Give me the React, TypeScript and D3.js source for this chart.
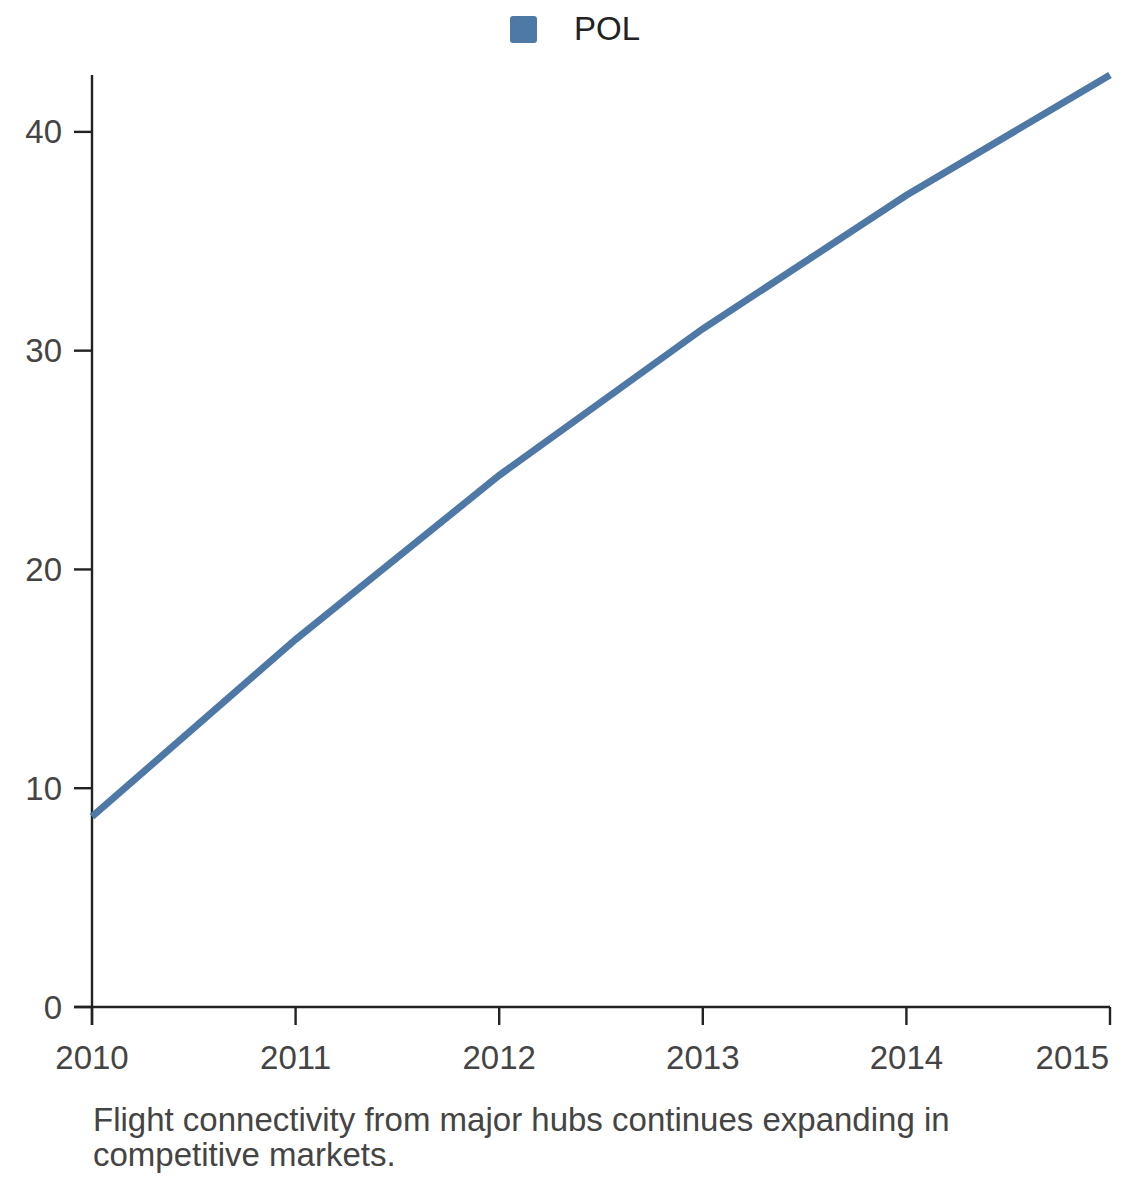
import React from "react";
import * as d3 from "d3";

const years = [2010, 2011, 2012, 2013, 2014, 2015];
const polValues = [8.7, 16.8, 24.3, 31.0, 37.1, 42.6];
const yTicks = [0, 10, 20, 30, 40];
const seriesName = "POL";
const caption = [
  "Flight connectivity from major hubs continues expanding in",
  "competitive markets.",
];

const W = 1140;
const H = 1182;
const margin = { left: 92, right: 30, top: 75, bottom: 175 };
const color = "#4e79a7";
const axisColor = "#222";
const textColor = "#444";
const font = "'Liberation Sans', Arial, sans-serif";

export default function App() {
  const x = d3
    .scaleLinear()
    .domain([years[0], years[years.length - 1]])
    .range([margin.left, W - margin.right]);
  const y = d3
    .scaleLinear()
    .domain([0, d3.max(polValues) as number])
    .range([H - margin.bottom, margin.top]);
  const data = years.map((yr, i) => ({ yr, v: polValues[i] }));
  const line = d3
    .line<{ yr: number; v: number }>()
    .x((d) => x(d.yr))
    .y((d) => y(d.v));
  const y0 = y(0);
  const tick = 18;
  const last = years.length - 1;
  return (
    <svg
      width={W}
      height={H}
      style={{ position: "absolute", left: 0, top: 0, background: "#fff" }}
      fontFamily={font}
    >
      {/* legend */}
      <rect x={510} y={16} width={27} height={27} rx={3} fill={color} />
      <text x={574} y={40} fontSize={33} fill="#222">
        {seriesName}
      </text>
      {/* y axis */}
      <line x1={margin.left} x2={margin.left} y1={margin.top} y2={y0 + tick} stroke={axisColor} strokeWidth={2.4} />
      {yTicks.map((t) => (
        <g key={t}>
          <line x1={margin.left - tick} x2={margin.left} y1={y(t)} y2={y(t)} stroke={axisColor} strokeWidth={2.4} />
          <text x={margin.left - 30} y={y(t)} dy="0.35em" textAnchor="end" fontSize={33} fill={textColor}>
            {t}
          </text>
        </g>
      ))}
      {/* x axis */}
      <line x1={margin.left - tick} x2={W - margin.right} y1={y0} y2={y0} stroke={axisColor} strokeWidth={2.4} />
      {years.map((yr, i) => (
        <g key={yr}>
          <line x1={x(yr)} x2={x(yr)} y1={y0} y2={y0 + tick} stroke={axisColor} strokeWidth={2.4} />
          <text
            x={i === last ? x(yr) - 1 : x(yr)}
            y={y0 + 62}
            textAnchor={i === last ? "end" : "middle"}
            fontSize={33}
            fill={textColor}
          >
            {yr}
          </text>
        </g>
      ))}
      {/* line */}
      <path d={line(data) || ""} fill="none" stroke={color} strokeWidth={7} />
      {/* caption */}
      {caption.map((c, i) => (
        <text key={i} x={93} y={1131 + i * 35} fontSize={33} fill={textColor}>
          {c}
        </text>
      ))}
    </svg>
  );
}
